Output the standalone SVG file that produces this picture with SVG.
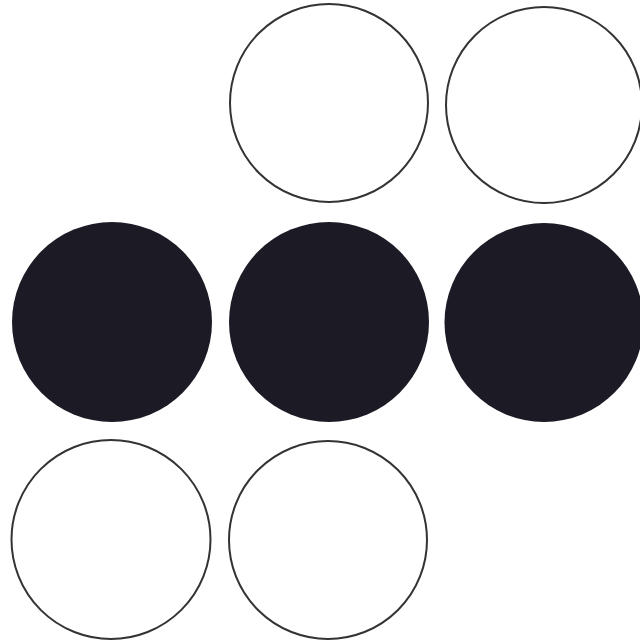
<svg xmlns="http://www.w3.org/2000/svg" width="640" height="643" viewBox="0 0 640 643">
<style>
.o{fill:#fff;stroke:#333;stroke-width:2}
.f{fill:#1b1a25;stroke:none}
</style>
<rect width="640" height="643" fill="#fff"/>
<g id="c1"><circle class="o" cx="329" cy="103" r="99"/></g>
<g id="c2"><circle class="o" cx="544" cy="105" r="98"/></g>
<g id="c3"><circle class="f" cx="112" cy="322" r="100"/></g>
<g id="c4"><circle class="f" cx="329" cy="322" r="100"/></g>
<g id="c5"><circle class="f" cx="544" cy="322.5" r="99.5"/></g>
<g id="c6"><circle class="o" cx="111" cy="539.5" r="99.5"/></g>
<g id="c7"><circle class="o" cx="328" cy="540" r="99"/></g>
</svg>
